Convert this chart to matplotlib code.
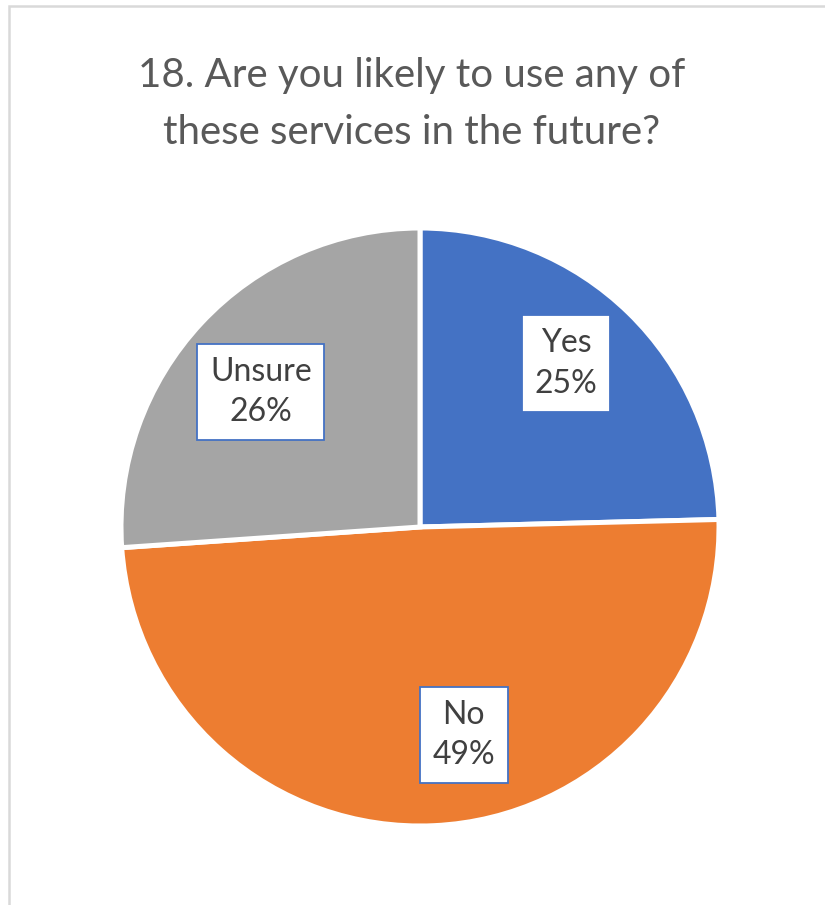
import matplotlib
matplotlib.use("Agg")
import matplotlib.pyplot as plt
import matplotlib.patches as patches
import numpy as np

categories = ["Yes", "No", "Unsure"]
values = [24.6, 49.3, 26.1]
pct_labels = ["25%", "49%", "26%"]
colors = ["#4472C4", "#ED7D31", "#A5A5A5"]
title = "18. Are you likely to use any of\nthese services in the future?"

W, H = 825, 905
fig = plt.figure(figsize=(W / 100, H / 100), dpi=100)
fig.patch.set_facecolor("white")

# outer chart border
fig.add_artist(patches.Rectangle((9 / W, -0.1), 1.2, 1 - 6 / H + 0.1,
                                 transform=fig.transFigure, fill=False,
                                 edgecolor="#D9D9D9", linewidth=1.8))

cx, cy, r = 420, 527, 299
ax = fig.add_axes([(cx - r) / W, (H - cy - r) / H, 2 * r / W, 2 * r / H])
wedges, _ = ax.pie(values, colors=colors, startangle=90, counterclock=False,
                   radius=1.0, wedgeprops=dict(edgecolor="white", linewidth=3.6))
ax.set_xlim(-1, 1)
ax.set_ylim(-1, 1)
ax.set_aspect("equal")
ax.axis("off")

label_r = [0.733, 0.711, 0.698]
angle_shift = [2.5, 9.2, 2.75]
for w, cat, p, lr, sh in zip(wedges, categories, pct_labels, label_r, angle_shift):
    mid = np.deg2rad((w.theta1 + w.theta2) / 2 + sh)
    x, y = lr * np.cos(mid), lr * np.sin(mid)
    ax.text(x, y, f"{cat}\n{p}", ha="center", va="center", fontsize=23,
            family="Lato", color="#404040", linespacing=1.45,
            bbox=dict(boxstyle="square,pad=0.4", facecolor="white",
                      edgecolor="#4472C4", linewidth=1.3))

fig.text(412 / W, 1 - 104 / H, title, ha="center", va="center", fontsize=29,
         family="Lato", color="#595959", linespacing=1.65)

fig.savefig("out.png", dpi=100, facecolor="white")
